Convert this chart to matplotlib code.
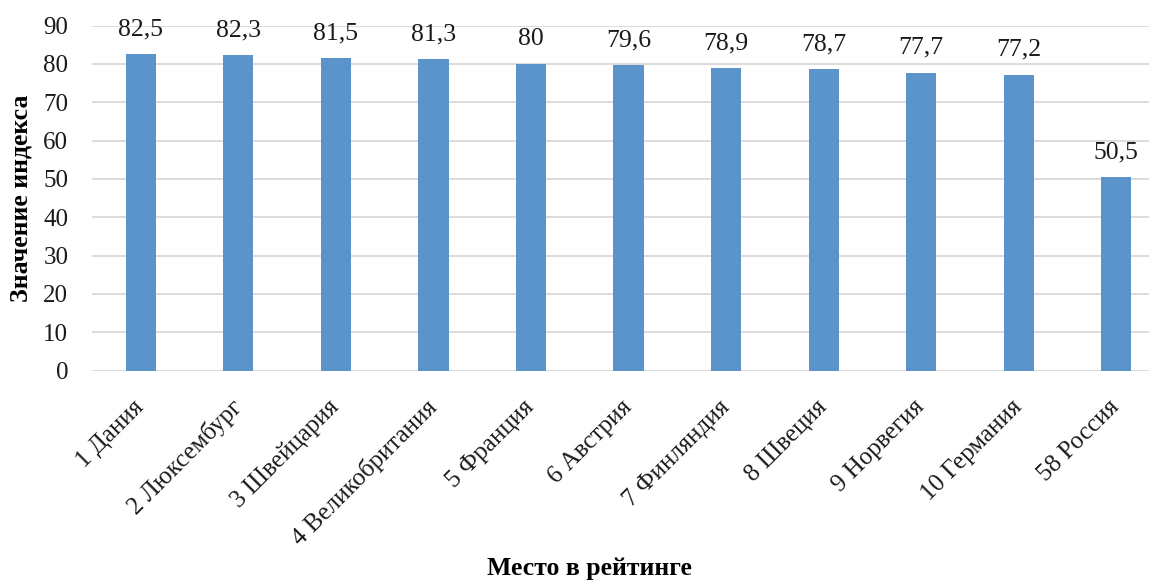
import matplotlib.pyplot as plt

places = ['1 Дания', '2 Люксембург', '3 Швейцария', '4 Великобритания', '5 Франция',
          '6 Австрия', '7 Финляндия', '8 Швеция', '9 Норвегия', '10 Германия', '58 Россия']
values = [82.5, 82.3, 81.5, 81.3, 80.0, 79.6, 78.9, 78.7, 77.7, 77.2, 50.5]
value_labels = ['82,5', '82,3', '81,5', '81,3', '80', '79,6', '78,9', '78,7', '77,7', '77,2', '50,5']

plt.rcParams['font.family'] = ['Liberation Serif', 'DejaVu Serif']

fig = plt.figure(figsize=(11.49, 5.81), dpi=100)
ax = fig.add_axes([0.080, 0.362, 0.934, 0.594])

x = range(len(places))
ax.bar(x, values, width=0.31, color='#5B94CB', zorder=3)

for i, (v, lab) in enumerate(zip(values, value_labels)):
    ax.annotate(lab, (i, v), xytext=(0, 10), textcoords='offset points',
                ha='center', va='bottom', fontsize=18.5, color='#1a1a1a')

ax.set_xlim(-0.5, len(places) - 0.5)
ax.set_ylim(0, 90)
ax.set_yticks(range(0, 91, 10))
ax.yaxis.grid(True, color='#D9D9D9', linewidth=1.3, zorder=0)
ax.set_axisbelow(True)
for s in ax.spines.values():
    s.set_visible(False)

ax.set_xticks(list(x))
ax.set_xticklabels(places, rotation=45, ha='right', va='center', rotation_mode='anchor',
                   fontsize=18, color='#1a1a1a')
ax.tick_params(axis='both', length=0, labelsize=18, labelcolor='#1a1a1a')
ax.tick_params(axis='x', pad=24)
ax.tick_params(axis='y', pad=17)

ax.set_ylabel('Значение индекса', fontsize=18.5, fontweight='bold', labelpad=8)
fig.text(0.513, 0.022, 'Место в рейтинге', ha='center', va='center', fontsize=18.5, fontweight='bold')

plt.savefig('out.png', dpi=100)
